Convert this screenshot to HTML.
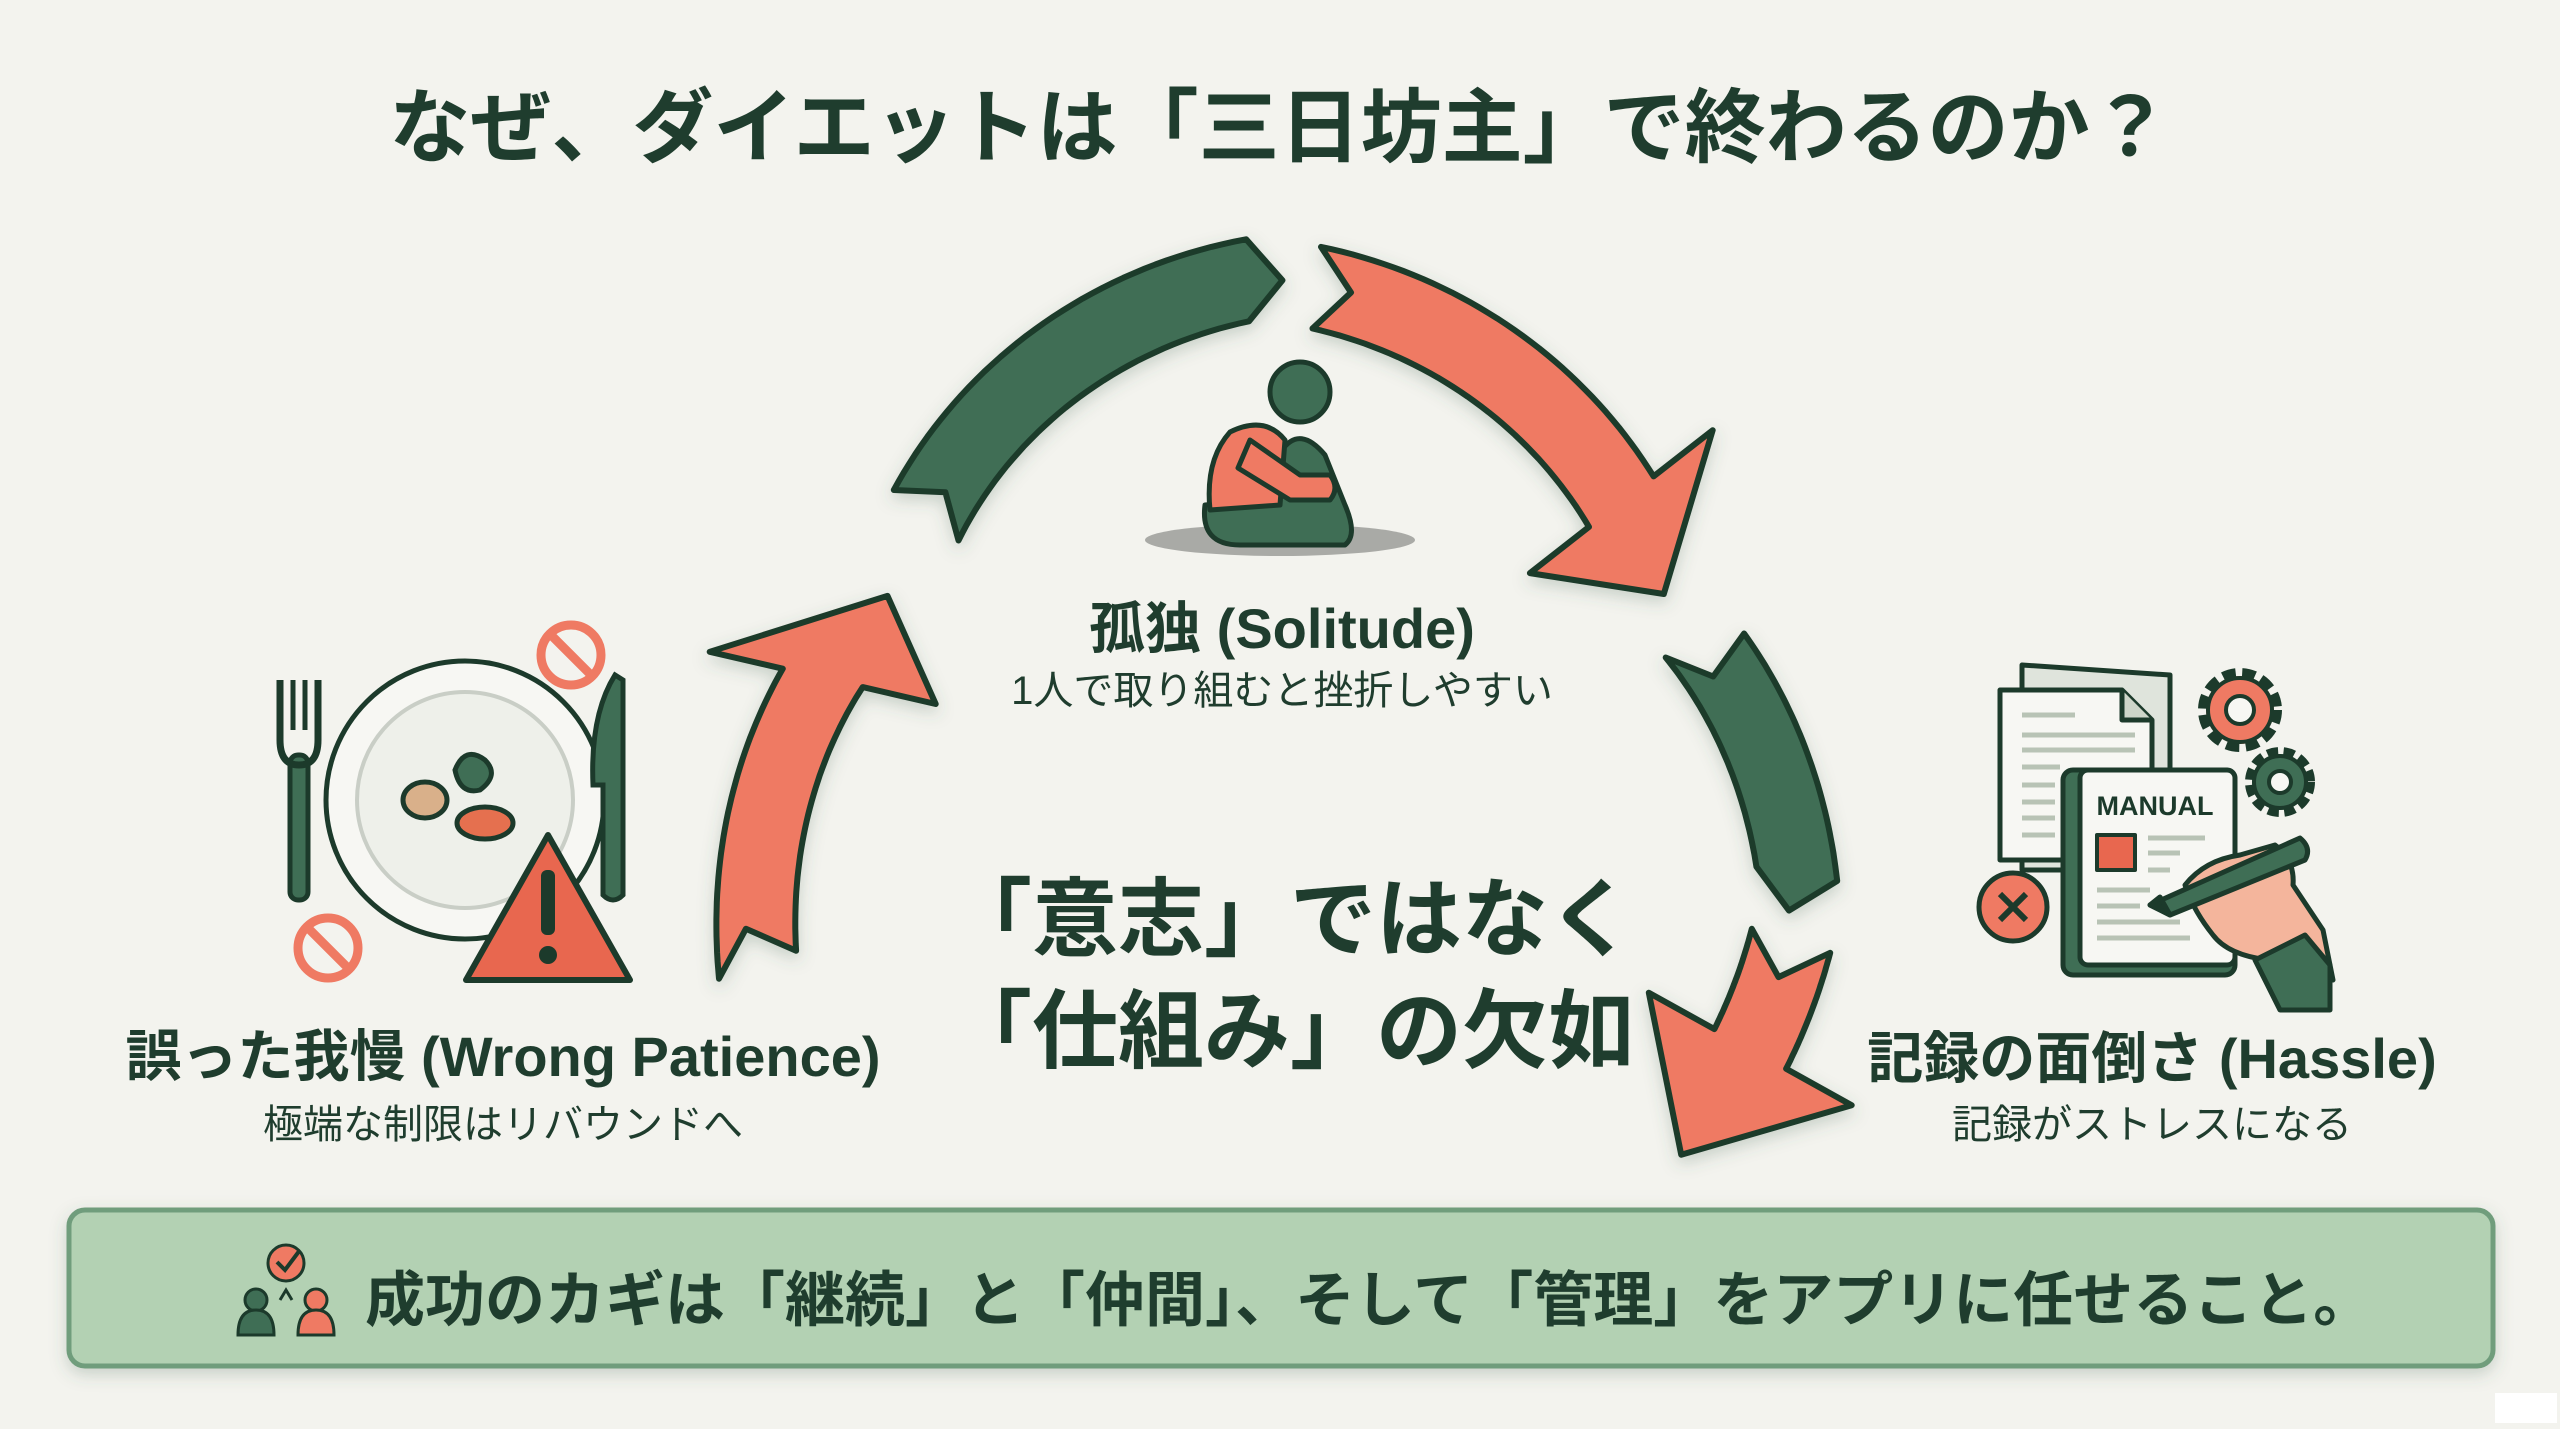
<!DOCTYPE html>
<html><head><meta charset="utf-8">
<style>
html,body{margin:0;padding:0;background:#f3f3ee;}
body{width:2560px;height:1429px;overflow:hidden;position:relative;font-family:"Liberation Sans","Noto Sans CJK JP",sans-serif;color:#1f3d2e;}
.t{position:absolute;white-space:nowrap;transform:translateX(-50%);text-align:center;}
</style></head><body>
<svg id="s" width="2560" height="1429" viewBox="0 0 2560 1429" style="position:absolute;left:0;top:0">
<defs>
<filter id="sh" x="-20%" y="-20%" width="140%" height="140%"><feDropShadow dx="0" dy="6" stdDeviation="8" flood-color="#4a6a55" flood-opacity="0.25"/></filter>
</defs>
<g id="arrows" filter="url(#sh)" stroke="#1c3a2b" stroke-width="6" stroke-linejoin="round"></g>

<!-- person -->
<ellipse cx="1280" cy="540" rx="135" ry="16" fill="#a9aaa6"/>
<g stroke="#1c3a2b" stroke-width="5" stroke-linejoin="round">
<circle cx="1300" cy="392" r="30" fill="#3f6e55"/>
<path d="M1205 505 Q1200 545 1240 545 L1345 545 Q1358 535 1345 505 L1325 455 Q1300 425 1282 450 L1262 500 Z" fill="#3f6e55"/>
<path d="M1230 432 Q1265 415 1285 440 L1280 505 L1210 510 Q1205 460 1230 432 Z" fill="#ef7a63"/>
<path d="M1250 440 L1300 475 L1330 475 Q1340 488 1330 500 L1290 500 L1238 468 Z" fill="#ef7a63"/>
</g>

<!-- left icon: plate -->
<g stroke="#1c3a2b" stroke-width="5">
<circle cx="465" cy="800" r="139" fill="#f7f7f3"/>
<circle cx="465" cy="800" r="108" fill="#eef0ea" stroke="#c9cec6" stroke-width="4"/>
<ellipse cx="425" cy="800" rx="22" ry="18" fill="#d9b08a"/>
<path d="M455 770 q10 -25 30 -10 q15 15 -5 30 q-20 5 -25 -20z" fill="#3f6e55"/>
<ellipse cx="485" cy="823" rx="28" ry="16" fill="#e5704f"/>
<rect x="290" y="755" width="18" height="145" rx="8" fill="#3f6e55"/>
<path d="M280 680 v60 q0 25 19 25 q19 0 19 -25 v-60" fill="none" stroke-width="7"/>
<line x1="293" y1="680" x2="293" y2="730"/><line x1="305" y1="680" x2="305" y2="730"/>
<path d="M615 675 q-25 40 -22 110 l10 0 v110 q10 10 20 0 v-215 z" fill="#3f6e55"/>
<path d="M548 835 L630 980 L466 980 Z" fill="#e8674f" stroke-linejoin="round" stroke-width="6"/>
<rect x="541" y="870" width="14" height="65" rx="6" fill="#1c3a2b" stroke="none"/>
<circle cx="548" cy="955" r="9" fill="#1c3a2b" stroke="none"/>
</g>
<g fill="none" stroke="#ef7a63" stroke-width="9">
<circle cx="571" cy="655" r="30"/><line x1="550" y1="634" x2="592" y2="676"/>
<circle cx="328" cy="948" r="30"/><line x1="307" y1="927" x2="349" y2="969"/>
</g>

<!-- right icon -->
<g stroke="#1c3a2b" stroke-width="5" stroke-linejoin="round">
<path d="M2022 665 L2170 675 L2170 870 L2022 870 Z" fill="#dfe4dc"/>
<path d="M2000 690 L2122 690 L2152 720 L2152 860 L2000 860 Z" fill="#f7f7f3"/>
<path d="M2122 690 L2122 720 L2152 720" fill="#cdd5c9"/>
<g stroke="#b8c3b5" stroke-width="5"><line x1="2022" y1="715" x2="2075" y2="715"/><line x1="2022" y1="735" x2="2135" y2="735"/><line x1="2022" y1="750" x2="2135" y2="750"/><line x1="2022" y1="767" x2="2060" y2="767"/><line x1="2022" y1="785" x2="2055" y2="785"/><line x1="2022" y1="802" x2="2055" y2="802"/><line x1="2022" y1="818" x2="2055" y2="818"/><line x1="2022" y1="835" x2="2055" y2="835"/></g>
<rect x="2063" y="770" width="172" height="205" rx="10" fill="#3f6e55"/>
<rect x="2080" y="770" width="155" height="195" rx="8" fill="#f7f7f3"/>
<text x="2155" y="815" font-family="Liberation Sans,sans-serif" font-weight="bold" font-size="27" fill="#1c3a2b" stroke="none" text-anchor="middle">MANUAL</text>
<rect x="2097" y="835" width="38" height="35" fill="#e8674f" stroke-width="4"/>
<g stroke="#b8c3b5" stroke-width="5"><line x1="2148" y1="838" x2="2205" y2="838"/><line x1="2148" y1="853" x2="2180" y2="853"/><line x1="2148" y1="870" x2="2170" y2="870"/><line x1="2097" y1="890" x2="2150" y2="890"/><line x1="2097" y1="906" x2="2140" y2="906"/><line x1="2097" y1="922" x2="2180" y2="922"/><line x1="2097" y1="938" x2="2190" y2="938"/></g>
<circle cx="2013" cy="907" r="34" fill="#ef7a63"/>
<path d="M2000 894 L2026 920 M2026 894 L2000 920" stroke-width="6"/>
<path d="M2185 885 q20 -25 55 -30 l35 -10 q20 15 18 40 l30 45 l10 50 l-45 0 l-20 -20 q-40 -5 -55 -25 q-20 -25 -28 -50z" fill="#f4b59c"/>
<path d="M2150 905 L2300 838 Q2312 848 2305 860 L2170 915 Z" fill="#3f6e55"/>
<path d="M2150 905 L2170 915 L2160 897 Z" fill="#1c3a2b"/>
<path d="M2255 960 l50 -25 l25 30 l0 45 l-50 0 z" fill="#3f6e55"/>
</g>
<g stroke="#1c3a2b" stroke-width="4">
<circle cx="2240" cy="710" r="34" fill="#ef7a63" stroke-dasharray="12 6" stroke-width="16"/>
<circle cx="2240" cy="710" r="32" fill="#ef7a63"/>
<circle cx="2240" cy="710" r="14" fill="#f7f7f3"/>
<circle cx="2280" cy="782" r="28" fill="#3f6e55" stroke-dasharray="10 5" stroke-width="14"/>
<circle cx="2280" cy="782" r="26" fill="#3f6e55"/>
<circle cx="2280" cy="782" r="11" fill="#f7f7f3"/>
</g>

<!-- banner -->
<rect x="69" y="1210" width="2424" height="156" rx="16" fill="#b3d1b3" stroke="#6f9d7c" stroke-width="5" filter="url(#sh)"/>
<g stroke="#1c3a2b" stroke-width="3">
<circle cx="286" cy="1263" r="18" fill="#ef7a63"/>
<path d="M277 1262 l8 8 l15 -20" fill="none" stroke-width="4"/>
<circle cx="256" cy="1300" r="11" fill="#3f6e55"/><path d="M238 1335 q0 -25 18 -25 q18 0 18 25 z" fill="#3f6e55"/>
<circle cx="316" cy="1300" r="11" fill="#ef7a63"/><path d="M298 1335 q0 -25 18 -25 q18 0 18 25 z" fill="#ef7a63"/>
<path d="M280 1300 l6 -10 l6 10" fill="none"/>
</g>
<rect x="2495" y="1393" width="62" height="30" fill="#ffffff"/>
</svg>

<div class="t" style="left:1280px;top:63px;font-size:81px;font-weight:bold;">なぜ、ダイエットは「三日坊主」で終わるのか？</div>
<div class="t" style="left:1282px;top:584px;font-size:56px;font-weight:bold;">孤独 (Solitude)</div>
<div class="t" style="left:1282px;top:658px;font-size:40px;">1人で取り組むと挫折しやすい</div>
<div class="t" style="left:503px;top:1012px;font-size:56px;font-weight:bold;">誤った我慢 (Wrong Patience)</div>
<div class="t" style="left:503px;top:1092px;font-size:40px;">極端な制限はリバウンドへ</div>
<div class="t" style="left:2152px;top:1014px;font-size:56px;font-weight:bold;">記録の面倒さ (Hassle)</div>
<div class="t" style="left:2152px;top:1092px;font-size:40px;">記録がストレスになる</div>
<div class="t" style="left:1290px;top:864px;font-size:86px;font-weight:bold;line-height:112px;">「意志」ではなく<br>「仕組み」の欠如</div>
<div style="position:absolute;left:365px;top:1252px;font-size:60px;font-weight:bold;white-space:nowrap;">成功のカギは「継続」と「仲間」、そして「管理」をアプリに任せること。</div>

<script>
(function(){
var cx=1265,cy=780,W=82;
var g=document.getElementById('arrows');
function P(a,r){var t=a*Math.PI/180;return [cx+r*Math.cos(t),cy+r*Math.sin(t)];}
function arrow(a0,a1,R0,R1,col,big){
  var pts=[],n=40,hl=big?13:4,hw=big?75:0;
  var ae=a1-(big?hl:0);
  function Rr(a){return R0+(R1-R0)*(a-a0)/(a1-a0);}
  for(var i=0;i<=n;i++){var a=a0+(ae-a0)*i/n;pts.push(P(a,Rr(a)+W/2));}
  if(big){pts.push(P(ae,Rr(ae)+W/2+hw));pts.push(P(a1,R1));pts.push(P(ae,Rr(ae)-W/2-hw));}
  else{pts.push(P(a1+hl,R1));}
  for(var i=n;i>=0;i--){var a=a0+(ae-a0)*i/n;pts.push(P(a,Rr(a)-W/2));}
  pts.push(P(a0+4,R0));
  var p=document.createElementNS('http://www.w3.org/2000/svg','polygon');
  p.setAttribute('points',pts.map(function(q){return q[0].toFixed(1)+','+q[1].toFixed(1);}).join(' '));
  p.setAttribute('fill',col);g.appendChild(p);
}
arrow(218,268,430,500,'#3f6e55',false);
arrow(276,335,495,440,'#ef7a63',true);
arrow(343,370,460,540,'#3f6e55',false);
arrow(17,42,550,560,'#ef7a63',true);
arrow(160,206,540,420,'#ef7a63',true);
})();
</script>
</body></html>
